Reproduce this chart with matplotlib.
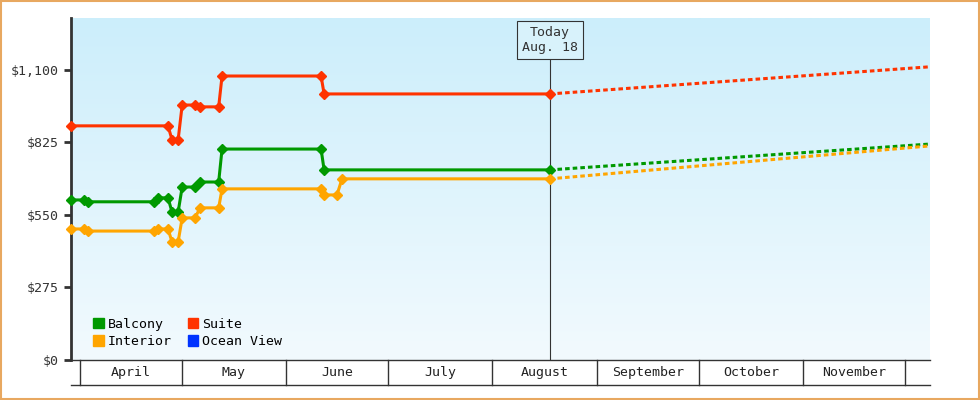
import numpy as np
import matplotlib
matplotlib.use("Agg")
import matplotlib.pyplot as plt
import matplotlib.transforms as mtrans
from matplotlib.patches import Rectangle, Patch
from matplotlib.colors import LinearSegmentedColormap

# days since April 1
red_x = [-2.7, 26, 27.2, 29, 30.2, 34, 35.5, 41, 42, 71.3, 72.2, 139]
red_y = [888, 888, 835, 835, 967, 967, 960, 960, 1077, 1077, 1009, 1009]
green_x = [-2.7, 1.2, 2.4, 22, 23, 26, 27.2, 29, 30.2, 34, 35.5, 41, 42, 71.3, 72.2, 139]
green_y = [607, 607, 600, 600, 615, 615, 561, 561, 656, 656, 675, 675, 800, 800, 721, 721]
orange_x = [-2.7, 1.2, 2.4, 22, 23, 26, 27.2, 29, 30.2, 34, 35.5, 41, 42, 71.3, 72.2, 76, 77.5, 139]
orange_y = [497, 497, 489, 489, 497, 497, 448, 448, 539, 539, 577, 577, 649, 649, 626, 626, 687, 687]
forecast_x = [139, 251.5]
red_fc = [1009, 1112]
green_fc = [721, 819]
orange_fc = [687, 812]
months = ["April", "May", "June", "July", "August", "September", "October", "November"]
month_starts = [0, 30, 61, 91, 122, 153, 183, 214, 244]
today = 139
yticks = [0, 275, 550, 825, 1100]
ylabels = ["$0", "$275", "$550", "$825", "$1,100"]

mono = "DejaVu Sans Mono"
RED, GREEN, ORANGE, BLUE = "#ff3300", "#009900", "#ffa500", "#0033ff"

fig = plt.figure(figsize=(9.8, 4), dpi=100)
fig.patch.set_facecolor("white")
fig.add_artist(Rectangle((0.001, 0.002), 0.998, 0.996, transform=fig.transFigure,
                         fill=False, edgecolor="#e8a860", linewidth=1.5))
ax = fig.add_axes([71/980, 40/400, 859/980, 342/400])
xmin, xmax, ymin, ymax = -2.7, 251.5, 0, 1297
ax.set_xlim(xmin, xmax); ax.set_ylim(ymin, ymax)
grad = np.linspace(0, 1, 256).reshape(-1, 1)
cm = LinearSegmentedColormap.from_list("g", ["#f2fafe", "#cceefb"])
ax.imshow(grad, cmap=cm, aspect="auto", extent=[xmin, xmax, ymin, ymax], origin="lower", zorder=0)

for xs, ys, fc, c, in [(red_x, red_y, red_fc, RED), (green_x, green_y, green_fc, GREEN), (orange_x, orange_y, orange_fc, ORANGE)]:
    ax.plot(xs, ys, color=c, lw=2.2, marker="D", ms=5, zorder=3, clip_on=False)
    ax.plot(forecast_x, fc, color=c, lw=2.2, ls=(0, (1.5, 1)), zorder=3)

ax.axvline(today, ymin=0, ymax=(360-60)/342, color="#333333", lw=0.8, zorder=2)
ax.text(today, 1297 - (40/0.2636)/2 - 2/0.2636, "Today\nAug. 18", ha="center", va="center", fontsize=9.5,
        family=mono, color="#333333", zorder=5,
        bbox=dict(boxstyle="square,pad=0.4", fc="#d8f2fb", ec="#333333", lw=0.8))

for s in ["top", "right", "bottom"]:
    ax.spines[s].set_visible(False)
ax.spines["left"].set_linewidth(2); ax.spines["left"].set_color("#333333")
ax.set_yticks(yticks); ax.set_yticklabels(ylabels, family=mono, fontsize=9.5, color="#333333")
ax.tick_params(axis="y", length=5, width=2, color="#333333")
ax.set_xticks([])

tr = mtrans.blended_transform_factory(ax.transData, ax.transAxes)
yb = -25/342
ax.plot([xmin, xmax], [0, 0], transform=tr, color="#333333", lw=1, clip_on=False)
ax.plot([xmin, xmax], [yb, yb], transform=tr, color="#333333", lw=1, clip_on=False)
for m in month_starts:
    ax.plot([m, m], [0, yb], transform=tr, color="#333333", lw=1, clip_on=False)
for i, name in enumerate(months):
    ax.text((month_starts[i] + month_starts[i+1]) / 2, yb/2, name, transform=tr, ha="center", va="center",
            family=mono, fontsize=9.5, color="#222222")

handles = [Patch(color=GREEN, label="Balcony"), Patch(color=ORANGE, label="Interior"),
           Patch(color=RED, label="Suite"), Patch(color=BLUE, label="Ocean View")]
ax.legend(handles=handles, ncol=2, loc="lower left", bbox_to_anchor=(0.012, 0.0), frameon=False,
          prop={"family": mono, "size": 9.5}, handlelength=0.8, handleheight=0.8, handletextpad=0.3,
          columnspacing=1.2, labelspacing=0.35)
fig.savefig("out.png", dpi=100)
